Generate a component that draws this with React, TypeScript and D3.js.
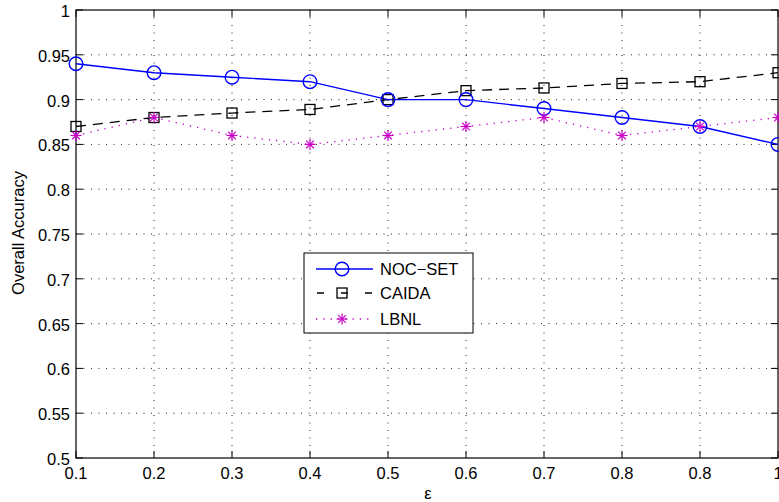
import React from 'react'
import * as d3 from 'd3'

const categories = ['0.1', '0.2', '0.3', '0.4', '0.5', '0.6', '0.7', '0.8', '0.8', '1']
const nocSet = [0.94, 0.93, 0.925, 0.92, 0.9, 0.9, 0.89, 0.88, 0.87, 0.85]
const caida = [0.87, 0.88, 0.885, 0.889, 0.9, 0.91, 0.913, 0.918, 0.92, 0.93]
const lbnl = [0.86, 0.88, 0.86, 0.85, 0.86, 0.87, 0.88, 0.86, 0.87, 0.88]
const yTicks = [0.5, 0.55, 0.6, 0.65, 0.7, 0.75, 0.8, 0.85, 0.9, 0.95, 1]

const W = 779, H = 502
const left = 76, right = 778, top = 10, bottom = 458
const font = 'Liberation Sans, Arial, Helvetica, sans-serif'
const fs = 16.5
const magenta = '#c800c8'

const App = () => {
  const x = d3.scaleLinear().domain([0, categories.length - 1]).range([left, right])
  const y = d3.scaleLinear().domain([0.5, 1]).range([bottom, top])
  const line = d3.line<number>().x((d, i) => x(i)).y(d => y(d))
  const idx = d3.range(categories.length)

  const star = (cx: number, cy: number, r: number, key: any) => (
    <g key={key} stroke={magenta} strokeWidth={1.2}>
      <line x1={cx - r} y1={cy} x2={cx + r} y2={cy} />
      <line x1={cx} y1={cy - r} x2={cx} y2={cy + r} />
      <line x1={cx - r * 0.7} y1={cy - r * 0.7} x2={cx + r * 0.7} y2={cy + r * 0.7} />
      <line x1={cx - r * 0.7} y1={cy + r * 0.7} x2={cx + r * 0.7} y2={cy - r * 0.7} />
    </g>
  )

  const lg = { x0: 304, y0: 253, w: 169, h: 80 }
  const rows = [269, 293, 319]

  return (
    <svg width={W} height={H} style={{ position: 'absolute', left: 0, top: 0, background: '#fff' }}>
      <rect x={0} y={0} width={W} height={H} fill="#fff" />
      {/* grid */}
      <g stroke="#222" strokeWidth={1} strokeDasharray="1,6.5">
        {idx.slice(1, -1).map(i => <line key={'gx' + i} x1={x(i)} x2={x(i)} y1={top} y2={bottom} />)}
        {yTicks.slice(1, -1).map(t => <line key={'gy' + t} x1={left} x2={right} y1={y(t)} y2={y(t)} />)}
      </g>
      {/* ticks */}
      <g stroke="#000" strokeWidth={1}>
        {idx.map(i => (
          <g key={'tx' + i}>
            <line x1={x(i)} x2={x(i)} y1={bottom} y2={bottom - 7} />
            <line x1={x(i)} x2={x(i)} y1={top} y2={top + 7} />
          </g>
        ))}
        {yTicks.map(t => (
          <g key={'ty' + t}>
            <line x1={left} x2={left + 7} y1={y(t)} y2={y(t)} />
            <line x1={right} x2={right - 7} y1={y(t)} y2={y(t)} />
          </g>
        ))}
      </g>
      <rect x={left} y={top} width={right - left} height={bottom - top} fill="none" stroke="#000" strokeWidth={1.2} />
      {/* tick labels */}
      <g fontFamily={font} fontSize={fs} fill="#000">
        {categories.map((c, i) => (
          <text key={'lx' + i} x={x(i)} y={bottom + 21} textAnchor="middle">{c}</text>
        ))}
        {yTicks.map(t => (
          <text key={'ly' + t} x={left - 6} y={y(t) + 7} textAnchor="end">{String(t)}</text>
        ))}
      </g>
      <text x={428} y={499} fontFamily={font} fontSize={fs} textAnchor="middle">ε</text>
      <text transform={`translate(24,233) rotate(-90)`} fontFamily={font} fontSize={fs} textAnchor="middle">Overall Accuracy</text>
      {/* series */}
      <path d={line(lbnl) || ''} fill="none" stroke={magenta} strokeWidth={1.3} strokeDasharray="1.3,6" />
      <path d={line(caida) || ''} fill="none" stroke="#000" strokeWidth={1.3} strokeDasharray="10,7" />
      <path d={line(nocSet) || ''} fill="none" stroke="#0000ff" strokeWidth={1.4} />
      {caida.map((v, i) => (
        <rect key={'sq' + i} x={x(i) - 5} y={y(v) - 5} width={10} height={10} fill="none" stroke="#000" strokeWidth={1.3} />
      ))}
      {nocSet.map((v, i) => (
        <circle key={'c' + i} cx={x(i)} cy={y(v)} r={6.8} fill="none" stroke="#0000ff" strokeWidth={1.4} />
      ))}
      {lbnl.map((v, i) => star(x(i), y(v), 5.5, 'st' + i))}
      {/* legend */}
      <rect x={lg.x0} y={lg.y0} width={lg.w} height={lg.h} fill="#fff" stroke="#000" strokeWidth={1} />
      <line x1={316} x2={373} y1={rows[0]} y2={rows[0]} stroke="#0000ff" strokeWidth={1.4} />
      <circle cx={342} cy={rows[0]} r={6.8} fill="none" stroke="#0000ff" strokeWidth={1.4} />
      <line x1={316} x2={373} y1={rows[1]} y2={rows[1]} stroke="#000" strokeWidth={1.3} strokeDasharray="7,17" strokeDashoffset={-1} />
      <rect x={337} y={rows[1] - 5} width={10} height={10} fill="none" stroke="#000" strokeWidth={1.3} />
      <line x1={316} x2={373} y1={rows[2]} y2={rows[2]} stroke={magenta} strokeWidth={1.3} strokeDasharray="1.3,6" />
      {star(342, rows[2], 5.5, 'lgst')}
      <g fontFamily={font} fontSize={fs} fill="#000">
        <text x={380} y={rows[0] + 6}>NOC−SET</text>
        <text x={380} y={rows[1] + 6}>CAIDA</text>
        <text x={380} y={rows[2] + 6}>LBNL</text>
      </g>
    </svg>
  )
}

export default App
